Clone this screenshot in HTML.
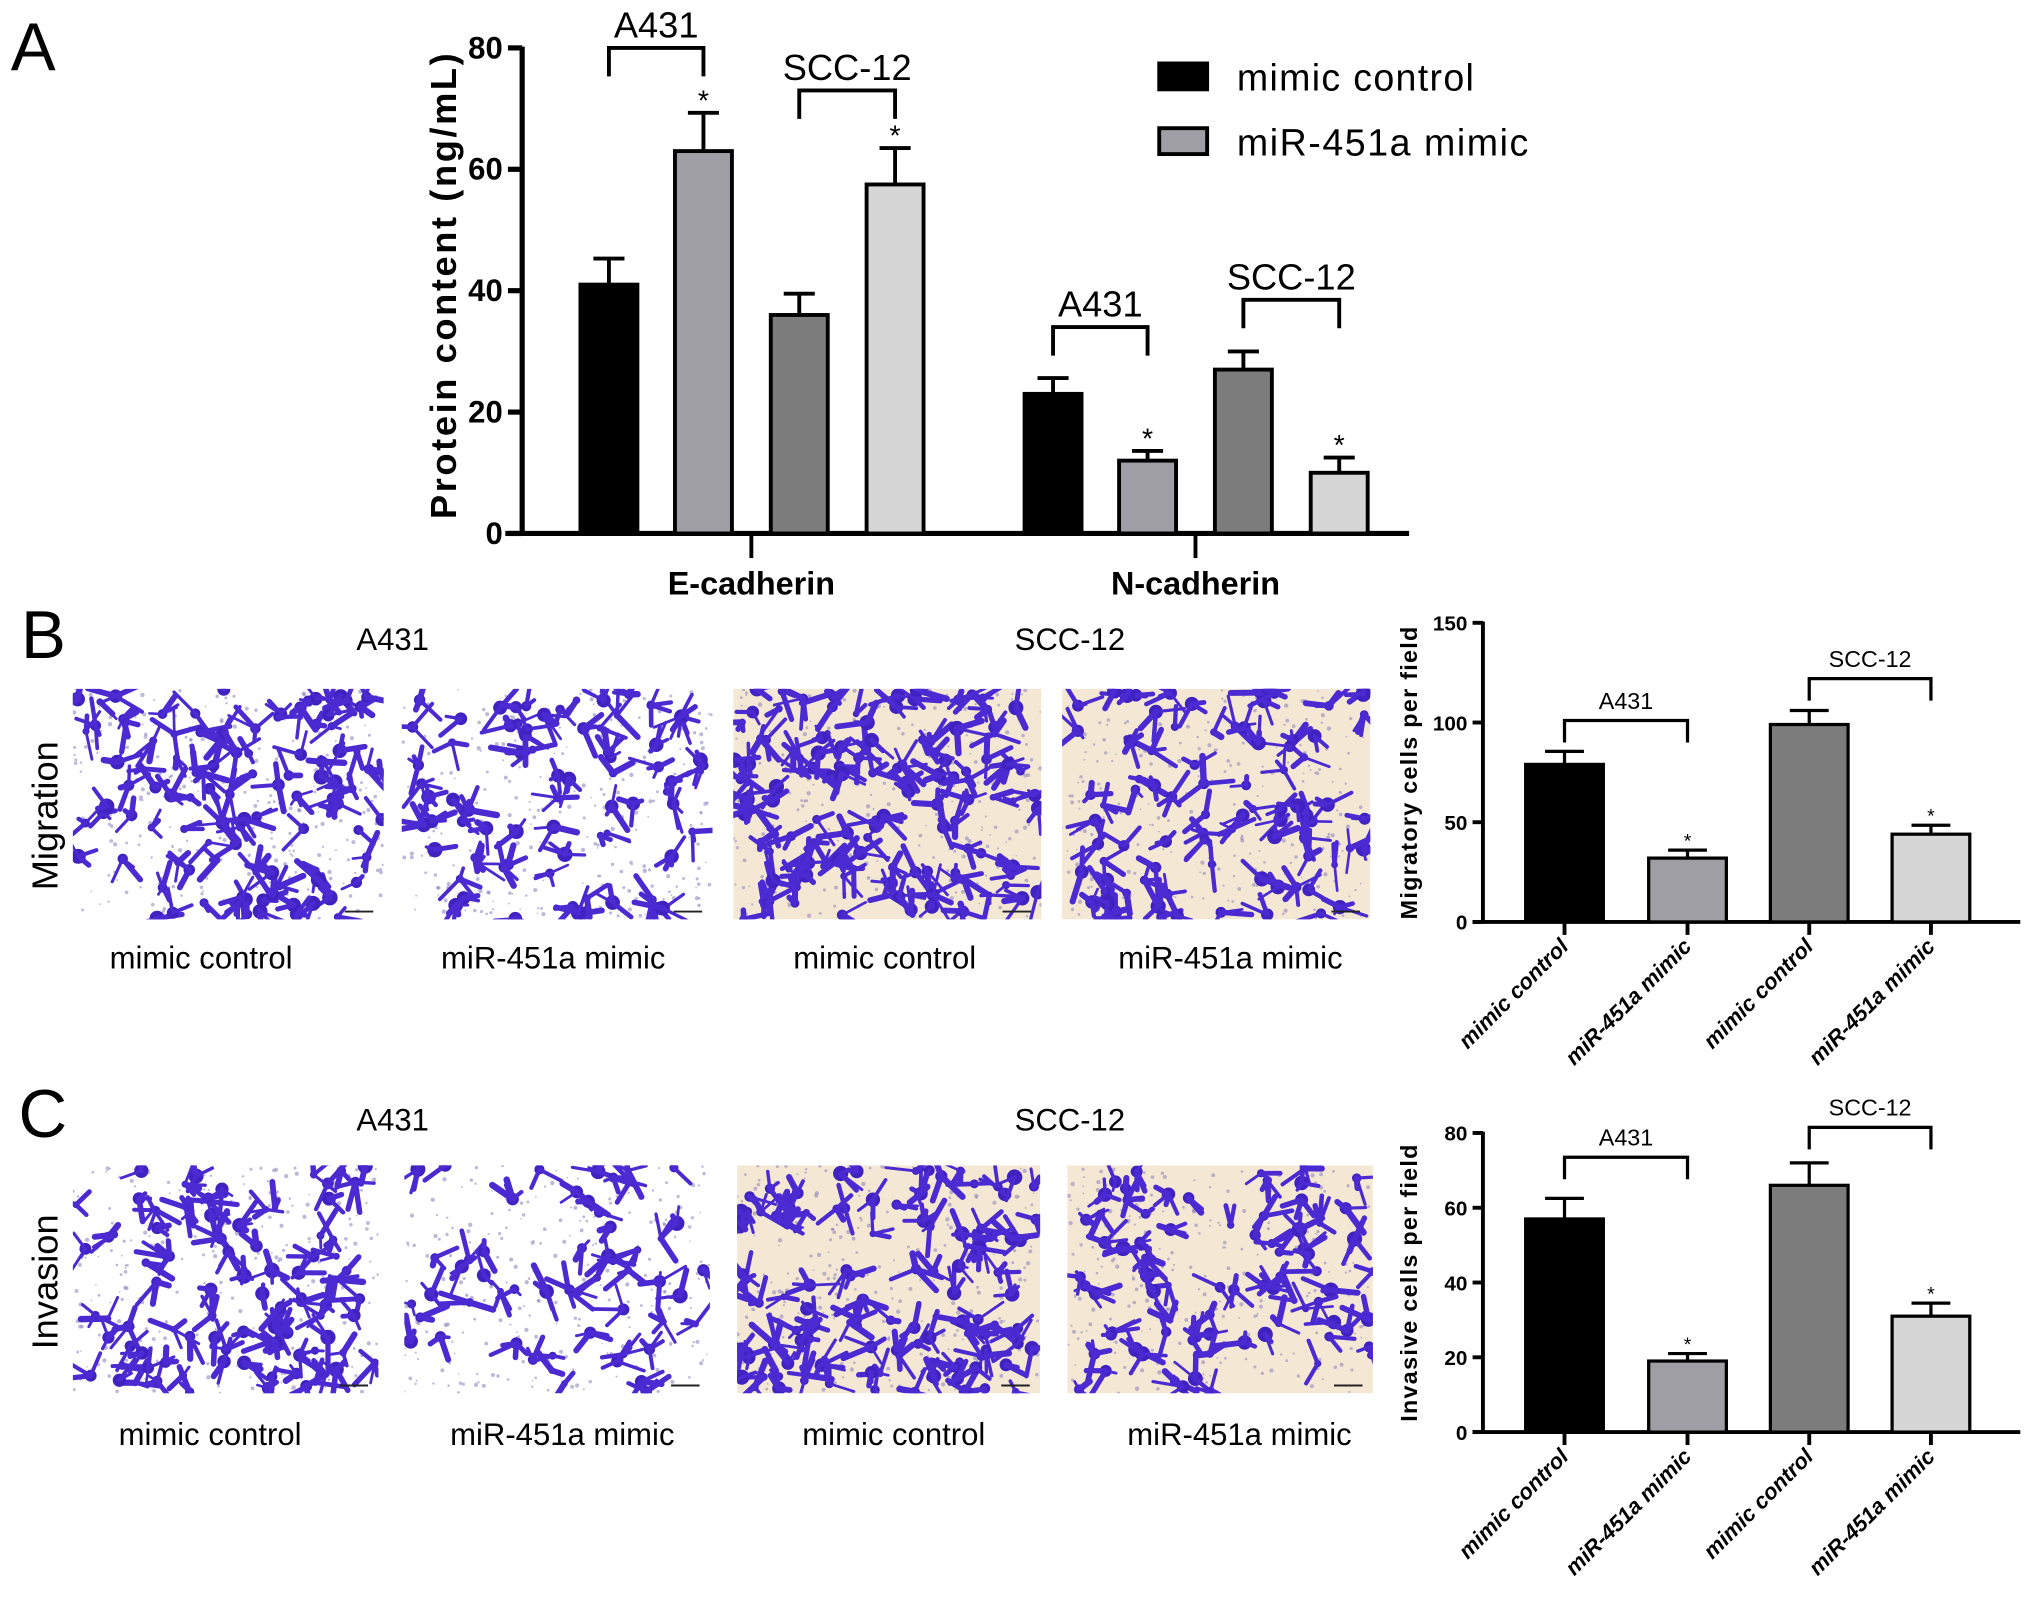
<!DOCTYPE html>
<html><head><meta charset="utf-8"><style>
html,body{margin:0;padding:0;background:#fff;}
svg{display:block;font-family:"Liberation Sans",Arial,sans-serif;}
</style></head><body>
<svg id="fig" width="2031" height="1603" viewBox="0 0 1568 1238">
<g id="static">
  <text x="8" y="54" font-size="52">A</text>
  <text x="16" y="508" font-size="52">B</text>
  <text x="14" y="878" font-size="52">C</text>
  <g>
    <rect x="895" y="49" width="37" height="20" fill="#000" stroke="#000" stroke-width="3"/>
    <text x="955" y="70" font-size="29" textLength="183">mimic control</text>
    <rect x="895" y="99" width="37" height="20" fill="#9e9ea4" stroke="#000" stroke-width="3"/>
    <text x="955" y="120" font-size="29" textLength="225">miR-451a mimic</text>
  </g>
  <text x="303" y="502" font-size="24" text-anchor="middle">A431</text>
  <text x="826" y="502" font-size="24" text-anchor="middle">SCC-12</text>
  <text x="303" y="873" font-size="24" text-anchor="middle">A431</text>
  <text x="826" y="873" font-size="24" text-anchor="middle">SCC-12</text>
  <text transform="translate(44,630) rotate(-90)" font-size="28" text-anchor="middle">Migration</text>
  <text transform="translate(44,990) rotate(-90)" font-size="28" text-anchor="middle">Invasion</text>
  <text x="155" y="748" font-size="24" text-anchor="middle">mimic control</text>
  <text x="427" y="748" font-size="24" text-anchor="middle">miR-451a mimic</text>
  <text x="683" y="748" font-size="24" text-anchor="middle">mimic control</text>
  <text x="950" y="748" font-size="24" text-anchor="middle">miR-451a mimic</text>
  <text x="162" y="1116" font-size="24" text-anchor="middle">mimic control</text>
  <text x="434" y="1116" font-size="24" text-anchor="middle">miR-451a mimic</text>
  <text x="690" y="1116" font-size="24" text-anchor="middle">mimic control</text>
  <text x="957" y="1116" font-size="24" text-anchor="middle">miR-451a mimic</text>
</g>
</svg>
<script>
// ---- Panel A data ----
const aCategories = ["E-cadherin", "N-cadherin"];
const aMeans = [41, 63, 36, 57.5, 23, 12, 27, 10];
const aErrors = [4.3, 6.3, 3.5, 6, 2.6, 1.6, 3, 2.5];
const aStars = [false, true, false, true, false, true, false, true];
const aTicks = [0, 20, 40, 60, 80];
// ---- Panel B data ----
const bCategories = ["mimic control", "miR-451a mimic", "mimic control", "miR-451a mimic"];
const bMeans = [79, 32, 99, 44];
const bErrors = [6.5, 4, 7, 4.5];
const bTicks = [0, 50, 100, 150];
// ---- Panel C data ----
const cMeans = [57, 19, 66, 31];
const cErrors = [5.5, 2, 6, 3.5];
const cTicks = [0, 20, 40, 60, 80];

const NS = "http://www.w3.org/2000/svg";
const svg = document.getElementById("fig");
const fills = ["#000000", "#9e9ea4", "#7c7c7c", "#d6d6d6"];
function mk(tag, attrs, parent) {
  const e = document.createElementNS(NS, tag);
  for (const k in attrs) e.setAttribute(k, attrs[k]);
  (parent || svg).appendChild(e);
  return e;
}
function txt(x, y, s, size, extra, parent) {
  const t = mk("text", Object.assign({x: x, y: y, "font-size": size}, extra || {}), parent);
  t.textContent = s;
  return t;
}

// ---- Panel A ----
(function () {
  const g = mk("g", {});
  
  
  const y0 = 412, y1 = 37, vmax = 80;
  const y = v => y0 - (v / vmax) * (y0 - y1);
  const groupCenters = [580, 923];
  const offs = [-110, -37, 37, 111];
  const bw = 44;
  const xOf = i => groupCenters[Math.floor(i / 4)] + offs[i % 4];
  mk("line", {x1: 403, y1: y1 - 1, x2: 403, y2: y0, stroke: "#000", "stroke-width": 4}, g);
  mk("line", {x1: 390, y1: y0, x2: 1088, y2: y0, stroke: "#000", "stroke-width": 4}, g);
  aTicks.forEach(v => {
    mk("line", {x1: 392, y1: y(v), x2: 403, y2: y(v), stroke: "#000", "stroke-width": 4}, g);
    const t = txt(388, y(v) + 8, String(v), 24, {"text-anchor": "end", "font-weight": "bold"}, g);
    
    
  });
  aCategories.forEach((c, k) => {
    mk("line", {x1: groupCenters[k], y1: y0, x2: groupCenters[k], y2: y0 + 19, stroke: "#000", "stroke-width": 3}, g);
    const t = txt(groupCenters[k], y0 + 47, c, 25, {"text-anchor": "middle", "font-weight": "bold"}, g);
    
    
  });
  const yt = txt(0, 0, "Protein content (ng/mL)", 28, {"text-anchor": "middle", "font-weight": "bold", "letter-spacing": "2", transform: "translate(352,220) rotate(-90)"}, g);
  
  
  aMeans.forEach((m, i) => {
    const x = xOf(i), top = y(m), et = y(m + aErrors[i]);
    mk("line", {x1: x, y1: top, x2: x, y2: et, stroke: "#000", "stroke-width": 3}, g);
    mk("line", {x1: x - 12, y1: et, x2: x + 12, y2: et, stroke: "#000", "stroke-width": 3}, g);
    const r = mk("rect", {x: x - bw / 2, y: top, width: bw, height: y0 - top, fill: fills[i % 4], stroke: "#000", "stroke-width": 3}, g);
    
    
    if (aStars[i]) {
      const s = txt(x, et - 2, "*", 22, {"text-anchor": "middle"}, g);
      
      
    }
  });
  const br = [[0, "A431", 80], [2, "SCC-12", 73], [4, "A431", 34], [6, "SCC-12", 38.5]];
  br.forEach(b => {
    const xa = xOf(b[0]), xb = xOf(b[0] + 1), yb = y(b[2]);
    const p = mk("path", {d: `M${xa},${yb + 22} V${yb} H${xb} V${yb + 22}`, fill: "none", stroke: "#000", "stroke-width": 3}, g);
    
    
    const t = txt((xa + xb) / 2, yb - 8, b[1], 28, {"text-anchor": "middle"}, g);
    
    
  });
})();

// ---- Small charts B & C ----
function smallChart(name, means, errs, ticks, vmax, y0, y1, br, title) {
  const g = mk("g", {});
  
  
  const y = v => y0 - (v / vmax) * (y0 - y1);
  const xs = [1208, 1303, 1397, 1491];
  const bw = 60;
  mk("line", {x1: 1145, y1: y1 - 1, x2: 1145, y2: y0, stroke: "#000", "stroke-width": 3}, g);
  mk("line", {x1: 1137, y1: y0, x2: 1560, y2: y0, stroke: "#000", "stroke-width": 3}, g);
  ticks.forEach(v => {
    mk("line", {x1: 1137, y1: y(v), x2: 1145, y2: y(v), stroke: "#000", "stroke-width": 3}, g);
    const t = txt(1133, y(v) + 6, String(v), 16, {"text-anchor": "end", "font-weight": "bold"}, g);
    
    
  });
  const yt = txt(0, 0, title, 18, {"text-anchor": "middle", "font-weight": "bold", "letter-spacing": "1", transform: `translate(1094,${(y0 + y1) / 2}) rotate(-90)`}, g);
  
  
  means.forEach((m, i) => {
    const x = xs[i], top = y(m), et = y(m + errs[i]);
    mk("line", {x1: x, y1: top, x2: x, y2: et, stroke: "#000", "stroke-width": 2.5}, g);
    mk("line", {x1: x - 15, y1: et, x2: x + 15, y2: et, stroke: "#000", "stroke-width": 2.5}, g);
    const r = mk("rect", {x: x - bw / 2, y: top, width: bw, height: y0 - top, fill: fills[i], stroke: "#000", "stroke-width": 2.5}, g);
    
    
    if (i % 2 === 1) {
      const s = txt(x, et - 2, "*", 15, {"text-anchor": "middle"}, g);
      
      
    }
    mk("line", {x1: x, y1: y0, x2: x, y2: y0 + 10, stroke: "#000", "stroke-width": 3}, g);
    const t = txt(0, 0, bCategories[i], 17, {"text-anchor": "end", "font-weight": "bold", "font-style": "italic", transform: `translate(${x + 4},${y0 + 20}) rotate(-45)`}, g);
    
    
  });
  br.forEach(b => {
    const xa = xs[b[0]], xb = xs[b[0] + 1], yb = y(b[2]);
    const p = mk("path", {d: `M${xa},${yb + 17} V${yb} H${xb} V${yb + 17}`, fill: "none", stroke: "#000", "stroke-width": 2.5}, g);
    
    
    const t = txt((xa + xb) / 2, yb - 9, b[1], 18, {"text-anchor": "middle"}, g);
    
    
  });
}
smallChart("chart-b", bMeans, bErrors, bTicks, 150, 712, 481, [[0, "A431", 101], [2, "SCC-12", 122]], "Migratory cells per field");
smallChart("chart-c", cMeans, cErrors, cTicks, 80, 1106, 875, [[0, "A431", 73.5], [2, "SCC-12", 81.5]], "Invasive cells per field");

// ---- Micrographs (decorative stain texture) ----
let seed = 12345;
function rnd() { seed = (seed * 1103515245 + 12345) % 2147483648; return seed / 2147483648; }
const imgs = [
  [56, 532, 240, 178, "#ffffff", 105, "b-micrograph-a431-control"],
  [310, 532, 240, 178, "#ffffff", 75, "b-micrograph-a431-mimic"],
  [566, 532, 238, 178, "#f4e8d4", 130, "b-micrograph-scc12-control"],
  [820, 532, 238, 178, "#f4e8d4", 85, "b-micrograph-scc12-mimic"],
  [56, 900, 236, 176, "#ffffff", 95, "c-micrograph-a431-control"],
  [312, 900, 236, 176, "#ffffff", 55, "c-micrograph-a431-mimic"],
  [569, 900, 234, 176, "#f4e8d4", 115, "c-micrograph-scc12-control"],
  [824, 900, 236, 176, "#f4e8d4", 80, "c-micrograph-scc12-mimic"]
];
imgs.forEach((im, k) => {
  const [x, y, w, h, bg, n, name] = im;
  const g = mk("g", {});
  
  
  const cid = "clip" + k;
  const cp = mk("clipPath", {id: cid}, g);
  mk("rect", {x: x, y: y, width: w, height: h}, cp);
  const inner = mk("g", {"clip-path": `url(#${cid})`}, g);
  mk("rect", {x: x, y: y, width: w, height: h, fill: bg}, inner);
  for (let i = 0; i < 260; i++) {
    mk("circle", {cx: x + rnd() * w, cy: y + rnd() * h, r: 0.6 + rnd() * 1.1, fill: "#8a80b8", opacity: 0.55}, inner);
  }
  for (let i = 0; i < n; i++) {
    const cx = x + rnd() * w, cy = y + rnd() * h;
    mk("circle", {cx: cx, cy: cy, r: 2.5 + rnd() * 3.5, fill: "#3f22c0"}, inner);
    const arms = 2 + Math.floor(rnd() * 3);
    for (let j = 0; j < arms; j++) {
      const a = rnd() * Math.PI * 2, len = 6 + rnd() * 18;
      const ex = cx + Math.cos(a) * len, ey = cy + Math.sin(a) * len;
      mk("line", {x1: cx, y1: cy, x2: ex, y2: ey, stroke: "#4b2ad2", "stroke-width": 2 + rnd() * 3, "stroke-linecap": "round"}, inner);
    }
  }
  mk("line", {x1: x + w - 30, y1: y + h - 6, x2: x + w - 8, y2: y + h - 6, stroke: "#222", "stroke-width": 1.5}, inner);
});
</script>
</body></html>
